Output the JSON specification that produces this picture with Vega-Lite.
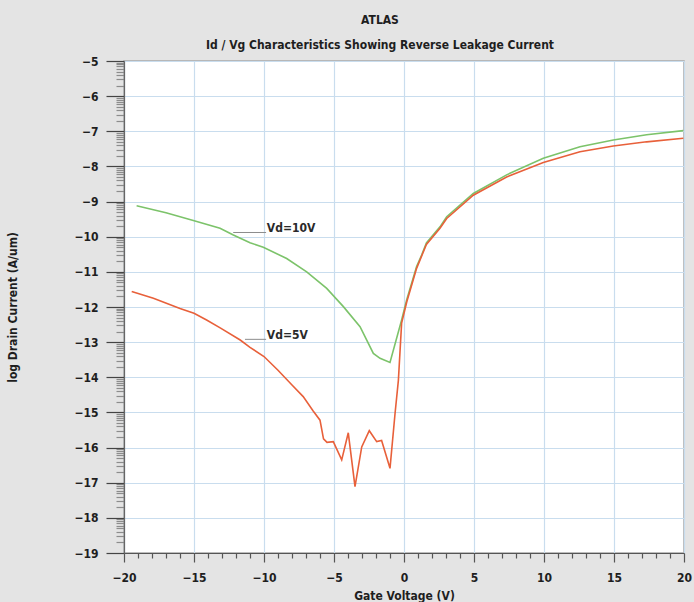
{
  "$schema": "https://vega.github.io/schema/vega-lite/v6.json",
  "width": 560,
  "height": 492,
  "autosize": {"type": "none"},
  "padding": {"left": 124, "top": 61, "right": 10, "bottom": 49},
  "background": "#e4e4e4",
  "view": {"fill": "#ffffff", "stroke": "#a8a8a8", "strokeWidth": 1.5},
  "config": {"font": "DejaVu Sans Condensed, Roboto, sans-serif"},
  "title": {
    "text": "ATLAS",
    "subtitle": "Id / Vg Characteristics Showing Reverse Leakage Current",
    "anchor": "middle",
    "dx": -24,
    "font": "DejaVu Sans Condensed, Roboto, sans-serif",
    "subtitleFont": "DejaVu Sans Condensed, Roboto, sans-serif",
    "fontSize": 12,
    "fontWeight": "bold",
    "color": "#1e1e1e",
    "subtitleFontSize": 12,
    "subtitleFontWeight": "bold",
    "subtitleColor": "#1e1e1e",
    "subtitlePadding": 13,
    "offset": 3
  },
  "resolve": {"axis": {"x": "independent", "y": "independent"}},
  "layer": [
    {
      "data": {
        "values": [
          {"label": "Vd=10V", "x": -12.2, "y": -9.88},
          {"label": "Vd=10V", "x": -9.85, "y": -9.88},
          {"label": "Vd=5V", "x": -11.36, "y": -12.92},
          {"label": "Vd=5V", "x": -9.85, "y": -12.92}
        ]
      },
      "mark": {"type": "line", "color": "#8c8c8c", "strokeWidth": 1},
      "encoding": {
        "x": {
          "field": "x", "type": "quantitative",
          "scale": {"domain": [-20, 20], "nice": false, "zero": false},
          "axis": {
            "orient": "bottom", "title": null, "labels": false, "ticks": false, "domain": false,
            "grid": true, "gridColor": "#c9ddee", "gridWidth": 1.2,
            "values": [-20, -15, -10, -5, 0, 5, 10, 15, 20]
          }
        },
        "y": {
          "field": "y", "type": "quantitative",
          "scale": {"domain": [-19, -5], "nice": false, "zero": false},
          "axis": {
            "orient": "left", "title": null, "labels": false, "ticks": false, "domain": false,
            "grid": true, "gridColor": "#c9ddee", "gridWidth": 1.2,
            "values": [-19, -18, -17, -16, -15, -14, -13, -12, -11, -10, -9, -8, -7, -6, -5]
          }
        },
        "detail": {"field": "label"}
      }
    },
    {
      "data": {
        "values": [
          {"series": "Vd=10V", "x": -19.1, "y": -9.12},
          {"series": "Vd=10V", "x": -17, "y": -9.32},
          {"series": "Vd=10V", "x": -15.05, "y": -9.54},
          {"series": "Vd=10V", "x": -13.14, "y": -9.76},
          {"series": "Vd=10V", "x": -12.19, "y": -9.95},
          {"series": "Vd=10V", "x": -11, "y": -10.17},
          {"series": "Vd=10V", "x": -10.05, "y": -10.3},
          {"series": "Vd=10V", "x": -8.38, "y": -10.62},
          {"series": "Vd=10V", "x": -6.95, "y": -11.0},
          {"series": "Vd=10V", "x": -5.52, "y": -11.47},
          {"series": "Vd=10V", "x": -4.33, "y": -11.99},
          {"series": "Vd=10V", "x": -3.14, "y": -12.56},
          {"series": "Vd=10V", "x": -2.19, "y": -13.32},
          {"series": "Vd=10V", "x": -1.71, "y": -13.46},
          {"series": "Vd=10V", "x": -1.0, "y": -13.58},
          {"series": "Vd=10V", "x": -0.17, "y": -12.37},
          {"series": "Vd=10V", "x": 0.19, "y": -11.8},
          {"series": "Vd=10V", "x": 0.9, "y": -10.85},
          {"series": "Vd=10V", "x": 1.26, "y": -10.52},
          {"series": "Vd=10V", "x": 1.6, "y": -10.18},
          {"series": "Vd=10V", "x": 2.57, "y": -9.72},
          {"series": "Vd=10V", "x": 3.05, "y": -9.43},
          {"series": "Vd=10V", "x": 4.95, "y": -8.77},
          {"series": "Vd=10V", "x": 7.33, "y": -8.24},
          {"series": "Vd=10V", "x": 9.95, "y": -7.77},
          {"series": "Vd=10V", "x": 12.57, "y": -7.44},
          {"series": "Vd=10V", "x": 14.95, "y": -7.25},
          {"series": "Vd=10V", "x": 17.33, "y": -7.1},
          {"series": "Vd=10V", "x": 19.95, "y": -6.98},
          {"series": "Vd=5V", "x": -19.45, "y": -11.56},
          {"series": "Vd=5V", "x": -17.9, "y": -11.75},
          {"series": "Vd=5V", "x": -16, "y": -12.04},
          {"series": "Vd=5V", "x": -15, "y": -12.18},
          {"series": "Vd=5V", "x": -14.1, "y": -12.37},
          {"series": "Vd=5V", "x": -13.1, "y": -12.6},
          {"series": "Vd=5V", "x": -11.7, "y": -12.94},
          {"series": "Vd=5V", "x": -11, "y": -13.15},
          {"series": "Vd=5V", "x": -10, "y": -13.41},
          {"series": "Vd=5V", "x": -9, "y": -13.8},
          {"series": "Vd=5V", "x": -8, "y": -14.22},
          {"series": "Vd=5V", "x": -7.2, "y": -14.55},
          {"series": "Vd=5V", "x": -6.5, "y": -14.95},
          {"series": "Vd=5V", "x": -6.0, "y": -15.22},
          {"series": "Vd=5V", "x": -5.75, "y": -15.75},
          {"series": "Vd=5V", "x": -5.5, "y": -15.85},
          {"series": "Vd=5V", "x": -5.05, "y": -15.83},
          {"series": "Vd=5V", "x": -4.45, "y": -16.35},
          {"series": "Vd=5V", "x": -3.98, "y": -15.58},
          {"series": "Vd=5V", "x": -3.5, "y": -17.11},
          {"series": "Vd=5V", "x": -3.02, "y": -15.98},
          {"series": "Vd=5V", "x": -2.48, "y": -15.52},
          {"series": "Vd=5V", "x": -1.95, "y": -15.83},
          {"series": "Vd=5V", "x": -1.6, "y": -15.8},
          {"series": "Vd=5V", "x": -1.0, "y": -16.59},
          {"series": "Vd=5V", "x": -0.64, "y": -15.03},
          {"series": "Vd=5V", "x": -0.4, "y": -14.08},
          {"series": "Vd=5V", "x": -0.17, "y": -12.46},
          {"series": "Vd=5V", "x": 0.2, "y": -11.85},
          {"series": "Vd=5V", "x": 0.9, "y": -10.9},
          {"series": "Vd=5V", "x": 1.6, "y": -10.22},
          {"series": "Vd=5V", "x": 2.57, "y": -9.76},
          {"series": "Vd=5V", "x": 3.05, "y": -9.48},
          {"series": "Vd=5V", "x": 4.95, "y": -8.82},
          {"series": "Vd=5V", "x": 7.33, "y": -8.3},
          {"series": "Vd=5V", "x": 9.95, "y": -7.89},
          {"series": "Vd=5V", "x": 12.57, "y": -7.58},
          {"series": "Vd=5V", "x": 14.95, "y": -7.42},
          {"series": "Vd=5V", "x": 17.33, "y": -7.3},
          {"series": "Vd=5V", "x": 19.95, "y": -7.2}
        ]
      },
      "mark": {"type": "line", "strokeWidth": 1.6},
      "encoding": {
        "x": {
          "field": "x",
          "type": "quantitative",
          "scale": {"domain": [-20, 20], "nice": false, "zero": false},
          "axis": {
            "orient": "bottom",
            "title": "Gate Voltage (V)",
            "titleFontSize": 12,
            "titleFontWeight": "bold",
            "titleColor": "#1e1e1e",
            "titleX": 280,
            "titleY": 42,
            "titleBaseline": "middle",
            "tickCount": 500,
            "values": [-20, -19, -18, -17, -16, -15, -14, -13, -12, -11, -10, -9, -8, -7, -6, -5, -4, -3, -2, -1, 0, 1, 2, 3, 4, 5, 6, 7, 8, 9, 10, 11, 12, 13, 14, 15, 16, 17, 18, 19, 20],
            "labelExpr": "datum.value % 5 === 0 ? format(datum.value, 'd') : ''",
            "labelFontSize": 12,
            "labelFontWeight": "bold",
            "labelColor": "#1e1e1e",
            "labelPadding": 10,
            "labelFlush": false,
            "labelOverlap": false,
            "domainColor": "#555555",
            "domainWidth": 1.2,
            "tickColor": "#555555",
            "tickWidth": 1.2,
            "tickSize": {"condition": {"test": "datum.value % 5 === 0", "value": 9}, "value": 5},
            "grid": false
          }
        },
        "y": {
          "field": "y",
          "type": "quantitative",
          "scale": {"domain": [-19, -5], "nice": false, "zero": false},
          "axis": {
            "orient": "left",
            "title": "log Drain Current (A/um)",
            "titleFontSize": 12,
            "titleFontWeight": "bold",
            "titleColor": "#1e1e1e",
            "titleX": -112,
            "titleY": 246,
            "titleAngle": -90,
            "titleBaseline": "middle",
            "tickCount": 500,
            "values": [-19, -18, -17, -16, -15, -14, -13, -12, -11, -10, -9, -8, -7, -6, -5,
              -18.699, -18.523, -18.398, -18.301, -18.222, -18.155, -18.097, -18.046,
              -17.699, -17.523, -17.398, -17.301, -17.222, -17.155, -17.097, -17.046,
              -16.699, -16.523, -16.398, -16.301, -16.222, -16.155, -16.097, -16.046,
              -15.699, -15.523, -15.398, -15.301, -15.222, -15.155, -15.097, -15.046,
              -14.699, -14.523, -14.398, -14.301, -14.222, -14.155, -14.097, -14.046,
              -13.699, -13.523, -13.398, -13.301, -13.222, -13.155, -13.097, -13.046,
              -12.699, -12.523, -12.398, -12.301, -12.222, -12.155, -12.097, -12.046,
              -11.699, -11.523, -11.398, -11.301, -11.222, -11.155, -11.097, -11.046,
              -10.699, -10.523, -10.398, -10.301, -10.222, -10.155, -10.097, -10.046,
              -9.699, -9.523, -9.398, -9.301, -9.222, -9.155, -9.097, -9.046,
              -8.699, -8.523, -8.398, -8.301, -8.222, -8.155, -8.097, -8.046,
              -7.699, -7.523, -7.398, -7.301, -7.222, -7.155, -7.097, -7.046,
              -6.699, -6.523, -6.398, -6.301, -6.222, -6.155, -6.097, -6.046,
              -5.699, -5.523, -5.398, -5.301, -5.222, -5.155, -5.097, -5.046],
            "labelExpr": "abs(datum.value - round(datum.value)) < 0.001 ? format(datum.value, 'd') : ''",
            "labelFontSize": 12,
            "labelFontWeight": "bold",
            "labelColor": "#1e1e1e",
            "labelPadding": 8,
            "labelFlush": false,
            "labelOverlap": false,
            "domainColor": "#666666",
            "domainWidth": 1.2,
            "tickColor": {"condition": {"test": "abs(datum.value - round(datum.value)) < 0.001", "value": "#444444"}, "value": "#8c8c8c"},
            "tickWidth": 1.2,
            "tickSize": {"condition": {"test": "abs(datum.value - round(datum.value)) < 0.001", "value": 18}, "value": 8},
            "grid": false
          }
        },
        "color": {
          "field": "series",
          "type": "nominal",
          "scale": {"domain": ["Vd=10V", "Vd=5V"], "range": ["#7cc36a", "#e8603a"]},
          "legend": null
        }
      }
    },
    {
      "data": {
        "values": [
          {"label": "Vd=10V", "x": -9.8, "y": -9.75},
          {"label": "Vd=5V", "x": -9.8, "y": -12.8}
        ]
      },
      "mark": {"type": "text", "align": "left", "baseline": "middle", "fontSize": 12, "fontWeight": "bold", "color": "#2a2a2a"},
      "encoding": {
        "x": {"field": "x", "type": "quantitative", "axis": null},
        "y": {"field": "y", "type": "quantitative", "axis": null},
        "text": {"field": "label"}
      }
    }
  ]
}
